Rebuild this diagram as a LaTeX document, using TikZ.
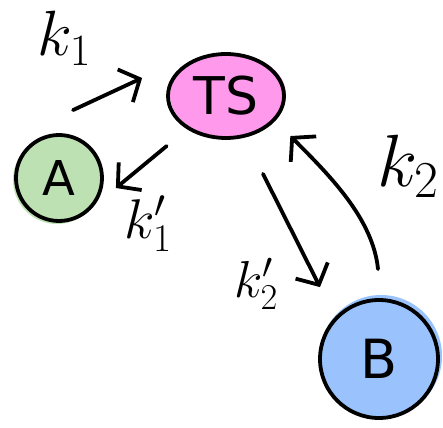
\RequirePackage{fix-cm}
\documentclass[tikz,border=0pt]{standalone}
\usepackage{fontspec}
\setsansfont{DejaVu Sans}
\usetikzlibrary{shapes.geometric,arrows.meta}
\definecolor{tspink}{HTML}{FF99EC}
\definecolor{agreen}{HTML}{BEE1B4}
\definecolor{bblue}{HTML}{9AC3FD}
\tikzset{
  blob/.style={draw=black, line width=3.8pt, inner sep=0pt},
  conn/.style={line width=3.8pt, line cap=round, -{Straight Barb[length=16pt,width=36pt,line width=3.8pt]}},
  lbl/.style={inner sep=0pt},
}
\begin{document}
\begin{tikzpicture}[x=1pt,y=-1pt]
\useasboundingbox (0,0) rectangle (443,427);
\fill[white] (0,0) rectangle (443,427);
% fills slightly offset (hand-drawn look)
\fill[agreen] (57,180) circle[radius=44];
\fill[bblue] (381,356) circle[radius=61];
\fill[tspink] (228,95) ellipse[x radius=58,y radius=42];
\node[blob, ellipse, minimum width=116pt, minimum height=84pt] (TS) at (226,96)
  {\fontsize{52}{52}\selectfont\sffamily TS};
\node[blob, circle, minimum size=86pt] (A) at (59,178)
  {\fontsize{48}{48}\selectfont\sffamily A};
\node[blob, circle, minimum size=118pt] (B) at (379,359)
  {\fontsize{54}{54}\selectfont\sffamily B};
% connectors
\draw[conn] ([shift={(14,-23)}]A.north) -- ([shift={(-24,-18)}]TS.west);
\draw[conn] ([shift={(-17,19)}]TS.south west) -- ([shift={(12,10)}]A.east);
\draw[conn] ([shift={(37,34)}]TS.south) -- ([shift={(-59,-11)}]B.north);
\draw[conn] ([shift={(-1,-29)}]B.north) .. controls +(-5,-50) and +(40,40) .. ([shift={(22,9)}]TS.south east);
% labels
\node[lbl] (l1) at (64,38) {\fontsize{64}{64}\selectfont$k_1$};
\node[lbl] (l1p) at (148,224) {\fontsize{56}{56}\selectfont$k_1'$};
\node[lbl] (l2p) at (256,284) {\fontsize{52}{52}\selectfont$k_2'$};
\node[lbl] (l2) at (408,166) {\fontsize{74}{74}\selectfont$k_2$};
\end{tikzpicture}
\end{document}
